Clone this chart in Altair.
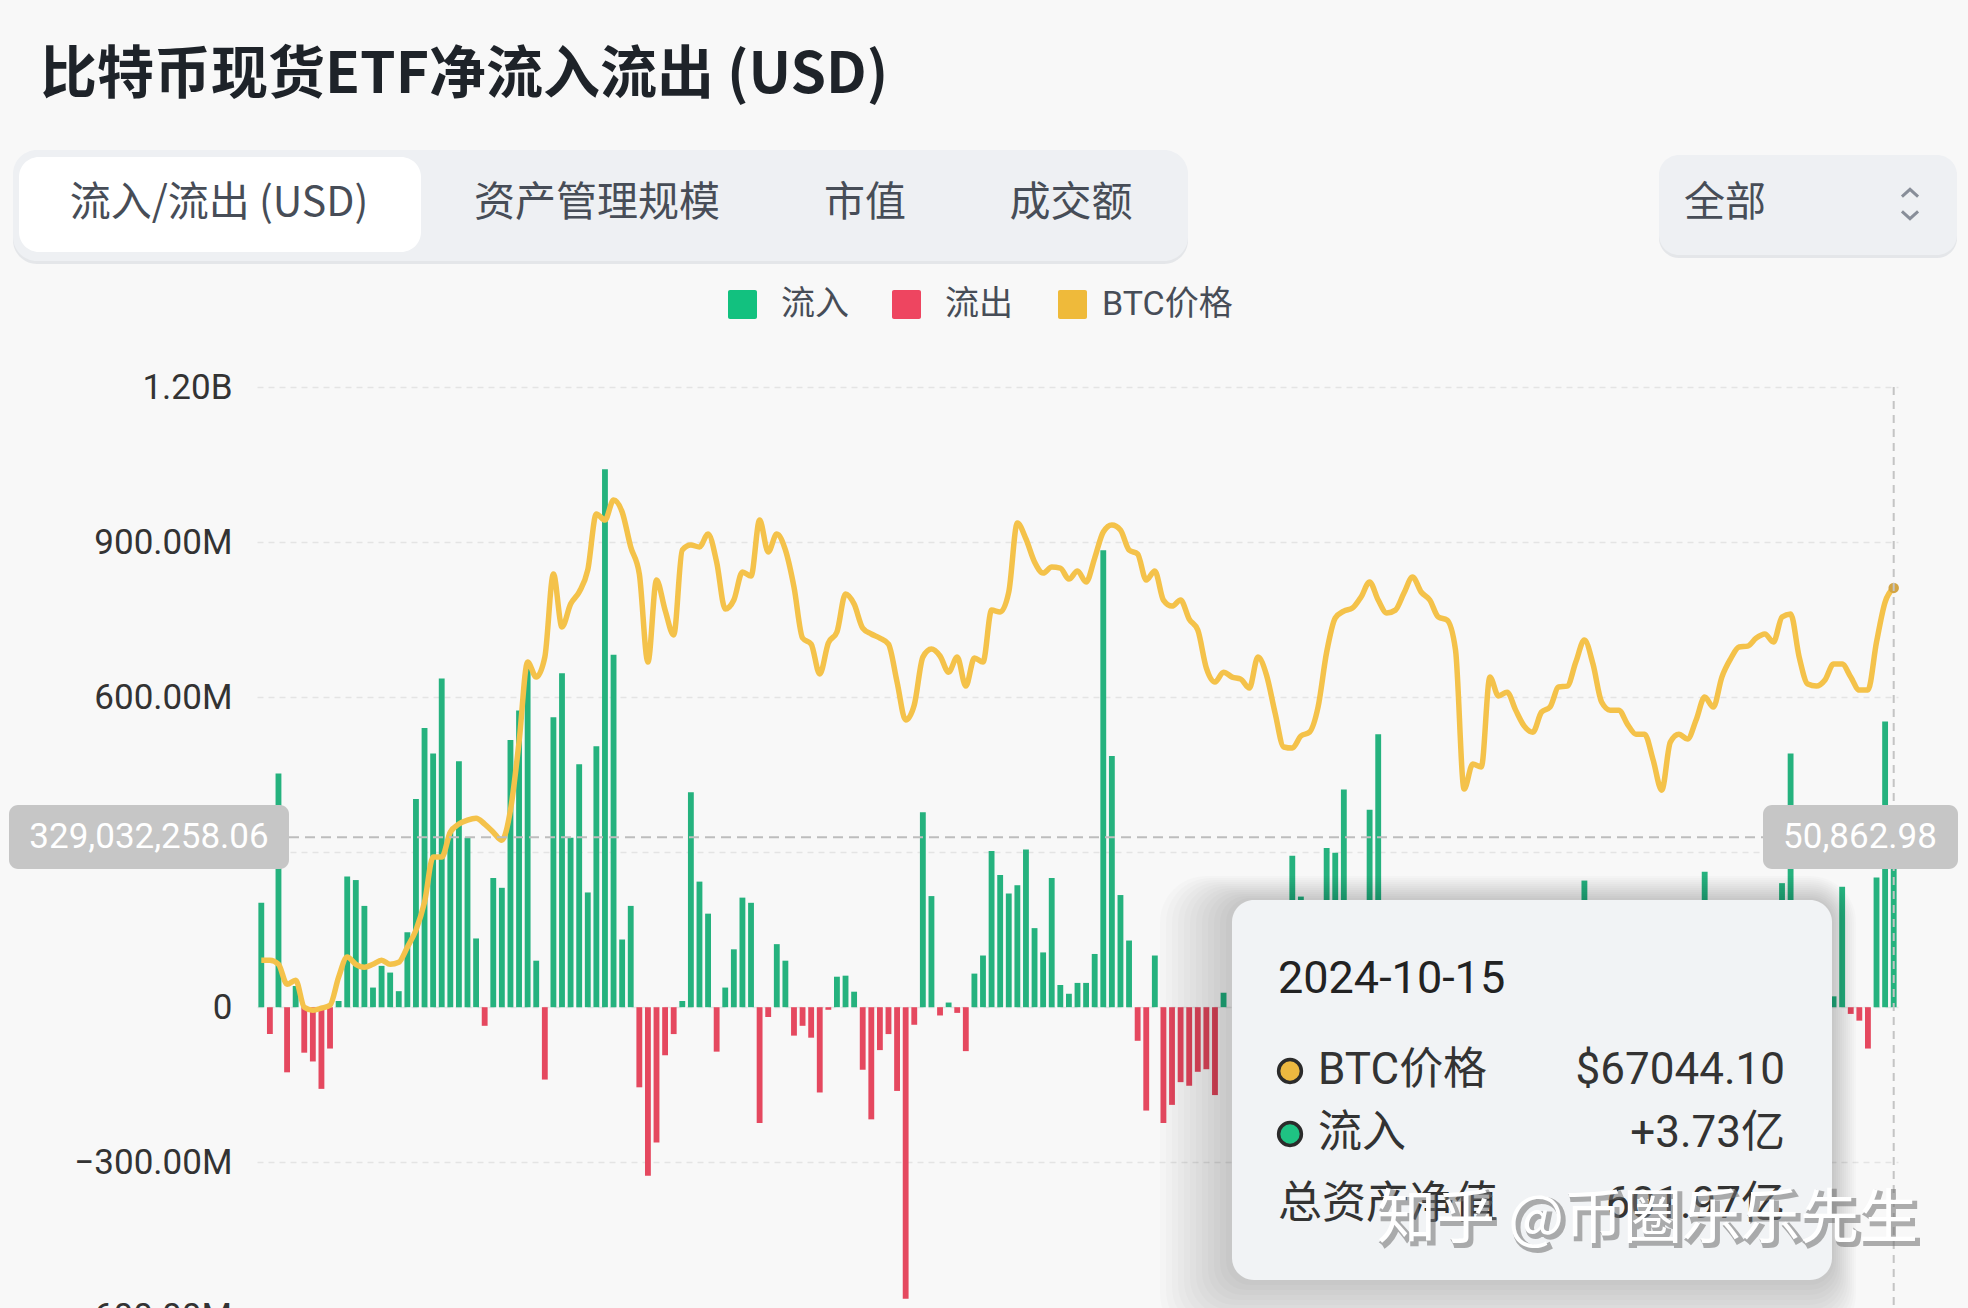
import altair as alt
import pandas as pd

# ---------------- data ----------------
# daily net flow, millions USD (None = bar hidden behind the tooltip panel)
FLOW_M = [
    202, -52, 452, -126, 41, -88, -105, -158, -80, 12,
    253, 246, 196, 38, 80, 67, 31, 145, 403, 540,
    491, 636, 338, 476, 328, 133, -36, 250, 231, 517,
    574, 655, 90, -140, 561, 646, 328, 470, 222, 505,
    1041, 682, 131, 196, -155, -326, -262, -93, -52, 12,
    416, 243, 181, -86, 38, 112, 212, 202, -224, -19,
    122, 90, -55, -36, -59, -165, -5, 59, 61, 30,
    -121, -217, -83, -52, -162, -564, -34, 377, 215, -16,
    9, -11, -85, 65, 100, 302, 256, 220, 236, 305,
    153, 106, 250, 43, 26, 47, 47, 103, 884, 486,
    217, 129, -65, -200, 100, -224, -189, -145, -152, -125,
    -120, -170, 28, None, None, None, None, None, None, None,
    293, 214, None, None, 308, 299, 421, None, None, 382,
    528, None, None, None, None, None, None, None, None, None,
    None, None, None, None, None, None, None, None, None, None,
    None, None, None, None, 245, None, None, None, None, None,
    None, None, None, None, None, None, None, None, 262, None,
    None, None, None, None, None, None, None, 240, 491, None,
    None, None, None, 21, 233, -13, -26, -80, 251, 553,
    373,
]

# BTC price, USD
PRICE = [
    43030, 43030, 42770, 41480, 41740, 40000, 39810, 39940, 40130, 41940,
    43230, 42770, 42580, 42770, 43030, 42770, 42900, 43870, 44970, 46770,
    49680, 49680, 51290, 51810, 52070, 52190, 51810, 51290, 50770, 52710,
    57100, 62260, 61290, 62580, 67940, 64520, 66000, 66780, 68200, 71810,
    71420, 72710, 71940, 69680, 67940, 62260, 67550, 65610, 64000, 69490,
    69810, 69680, 70520, 68710, 65680, 66260, 68070, 67810, 71420, 69360,
    70520, 69490, 67100, 63810, 63420, 61490, 63490, 64200, 66650, 66000,
    64450, 64070, 63810, 63420, 60970, 58520, 59490, 62580, 63100, 62650,
    61610, 62580, 60710, 62520, 62260, 65610, 65490, 66780, 71230, 70200,
    68710, 68000, 68390, 68320, 67610, 68130, 67420, 68970, 70650, 71100,
    70780, 69490, 69230, 67550, 68130, 66260, 65870, 66260, 65030, 64320,
    61870, 60970, 61610, 61290, 61160, 60580, 62580, 61420, 58970, 56780,
    56710, 57490, 57740, 59360, 62900, 65100, 65550, 65740, 66450, 67420,
    66260, 65420, 65610, 66710, 67740, 66780, 66260, 65160, 64970, 63030,
    54070, 55680, 55490, 61290, 60070, 60320, 59160, 58130, 57740, 59030,
    59360, 60650, 60710, 62260, 63680, 62130, 59680, 59160, 59160, 58260,
    57610, 57610, 55940, 54000, 57100, 57610, 57290, 58520, 60000, 59360,
    61290, 62450, 63230, 63290, 63810, 64070, 63550, 65160, 65360, 62580,
    60840, 60710, 61100, 62130, 62130, 61290, 60450, 60450, 63550, 66130,
    67044.10,
]

Y_TICKS = [-600e6, -300e6, 0, 300e6, 600e6, 900e6, 1200e6]
HIDDEN_TICK = 300e6            # label covered by the crosshair box in the reference
BOTTOM_TICK = -600e6
BOTTOM_TICK_LABEL = "-600.00M"

TITLE = "比特币现货ETF净流入流出 (USD)"
TABS = ["流入/流出 (USD)", "资产管理规模", "市值", "成交额"]
RANGE_LABEL = "全部"
LEGEND = ["流入", "流出", "BTC价格"]
TIP_DATE = "2024-10-15"
TIP_ROWS = ["BTC价格", "流入", "总资产净值"]
TIP_VALUES = ["$67044.10", "+3.73亿", "601.97亿"]
CROSS_FLOW = 329032258.06
CROSS_FLOW_LABEL = "329,032,258.06"
CROSS_PRICE_LABEL = "50,862.98"
WATERMARK = "知乎 @币圈乐乐先生"

# ---------------- styling / layout ----------------
BG = "#f8f8f8"
GREEN = "#25b27e"
RED = "#e5485f"
YELLOW = "#f4c24a"
LEG_GREEN = "#12c17f"
LEG_RED = "#ee4560"
LEG_YELLOW = "#efba3a"
TXT = "#474d57"
DARK = "#1e2329"
CJK = "Noto Sans CJK SC"
MIX = "Roboto, Noto Sans CJK SC"

L, T = 257, 387
W, H = 1641, 921
FLOW_DOMAIN = [-582e6, 1200e6]
PRICE_DOMAIN = [20600, 80000]

N = len(FLOW_M)
idx = list(range(1, N + 1))
bars_df = pd.DataFrame({"i": idx, "flow": [None if v is None else v * 1e6 for v in FLOW_M]}).dropna()
price_df = pd.DataFrame({"i": idx, "price": PRICE})
last_df = price_df.tail(1)
cross_df = pd.DataFrame({"v": [CROSS_FLOW]})
vline_df = pd.DataFrame({"i": [N]})
bottom_df = pd.DataFrame({"v": [BOTTOM_TICK], "t": [BOTTOM_TICK_LABEL]})
ONE = pd.DataFrame({"k": [0]})

xscale = alt.Scale(domain=idx, paddingInner=0.32, paddingOuter=0.16)
yscale = alt.Scale(domain=FLOW_DOMAIN, nice=False, zero=False)
pscale = alt.Scale(domain=PRICE_DOMAIN, nice=False, zero=False)

label_expr = (f"datum.value == {HIDDEN_TICK} ? '' : (datum.value == 0 ? '0' : (abs(datum.value) >= 1e9 ? "
              "format(datum.value / 1e9, '.2f') + 'B' : format(datum.value / 1e6, '.2f') + 'M'))")
yaxis = alt.Axis(values=Y_TICKS, labelExpr=label_expr, grid=True, gridDash=[6, 5],
                 gridColor="#e4e4e4", gridWidth=1.5, domain=False, ticks=False,
                 labelPadding=25, labelFontSize=35, labelColor="#333333", labelFont="Roboto",
                 labelOverlap=False, title=None)

bars = alt.Chart(bars_df).mark_bar().encode(
    x=alt.X("i:O", scale=xscale, axis=None),
    y=alt.Y("flow:Q", scale=yscale, axis=yaxis),
    color=alt.condition("datum.flow >= 0", alt.value(GREEN), alt.value(RED)),
)

bottom_label = alt.Chart(bottom_df).mark_text(align="right", baseline="middle", fontSize=35,
                                              font="Roboto", color="#333333").encode(
    y=alt.Y("v:Q", scale=yscale, axis=None), x=alt.value(-25), text="t:N")

line = alt.Chart(price_df).mark_line(color=YELLOW, strokeWidth=5.5, interpolate="monotone").encode(
    x=alt.X("i:O", scale=xscale, axis=None),
    y=alt.Y("price:Q", scale=pscale, axis=None),
)
last_dot = alt.Chart(last_df).mark_circle(color="#d3a544", size=110, opacity=1).encode(
    x=alt.X("i:O", scale=xscale, axis=None),
    y=alt.Y("price:Q", scale=pscale, axis=None),
)

hrule = alt.Chart(cross_df).mark_rule(color="#bdbdbd", strokeWidth=2, strokeDash=[10, 6]).encode(
    y=alt.Y("v:Q", scale=yscale, axis=None),
    x=alt.value(0), x2=alt.value(W),
)
vrule = alt.Chart(vline_df).mark_rule(color="#c4c4c4", strokeWidth=2, strokeDash=[8, 6]).encode(
    x=alt.X("i:O", scale=xscale, axis=None),
    y=alt.value(0), y2=alt.value(H),
)


def rect(x, x2, y, y2, fill, r=0, opacity=1.0):
    return alt.Chart(ONE).mark_rect(color=fill, cornerRadius=r, opacity=opacity).encode(
        x=alt.value(x), x2=alt.value(x2), y=alt.value(y), y2=alt.value(y2))


def text(txt, x, y, size, color, font=MIX, weight="normal", align="left", **kw):
    return alt.Chart(ONE).mark_text(align=align, baseline="middle", fontSize=size, font=font,
                                    fontWeight=weight, color=color, **kw).encode(
        x=alt.value(x), y=alt.value(y), text=alt.value(txt))


def dot(x, y, fill):
    return alt.Chart(ONE).mark_point(filled=True, fill=fill, stroke="#2b2b2b", strokeWidth=3.5,
                                     opacity=1, shape="circle").encode(
        x=alt.value(x), y=alt.value(y), size=alt.value(520))


layers = []
# header
layers.append(text(TITLE, -217, -311, 57, DARK, font=CJK, weight="bold"))
layers.append(rect(-244, 931, -234, -123, "#e4e6e9", r=24))
layers.append(rect(-244, 931, -237, -126, "#eef0f3", r=24))
layers.append(rect(-238, 164, -230, -135, "#ffffff", r=20))
for lab, cx in zip(TABS, [-38, 340, 608, 814]):
    layers.append(text(lab, cx, -183, 41, TXT, font=CJK, align="center"))
layers.append(rect(1402, 1700, -229, -129, "#e4e6e9", r=20))
layers.append(rect(1402, 1700, -232, -132, "#eef0f3", r=20))
layers.append(text(RANGE_LABEL, 1468, -183, 41, TXT, font=CJK, align="center"))
layers.append(alt.Chart(ONE).mark_point(shape="M-1,0.45L0,-0.45L1,0.45", filled=False, size=260,
                                        strokeWidth=3, color="#5e6673").encode(
    x=alt.value(1653), y=alt.value(-194)))
layers.append(alt.Chart(ONE).mark_point(shape="M-1,-0.45L0,0.45L1,-0.45", filled=False, size=260,
                                        strokeWidth=3, color="#5e6673").encode(
    x=alt.value(1653), y=alt.value(-172)))
# legend
for (x0, col), lab, tx in zip([(471, LEG_GREEN), (635, LEG_RED), (801, LEG_YELLOW)], LEGEND, [524, 688, 845]):
    layers.append(rect(x0, x0 + 29, -97, -68, col, r=2))
    layers.append(text(lab, tx, -82, 34, TXT))

# chart body
layers += [bars, bottom_label, line, last_dot, hrule, vrule]

# crosshair labels
layers.append(rect(-248, 32, 418, 482, "#c6c6c6", r=9))
layers.append(text(CROSS_FLOW_LABEL, -108, 450, 35, "#ffffff", font="Roboto", align="center"))
layers.append(rect(1506, 1701, 418, 482, "#c6c6c6", r=9))
layers.append(text(CROSS_PRICE_LABEL, 1603, 450, 35, "#ffffff", font="Roboto", align="center"))

# tooltip panel with soft shadow
for k in range(1, 13):
    layers.append(rect(975 - 6 * k, 1575 + 2 * k, 513 - 2 * k, 893 + 5 * k, "#000000",
                       r=22 + 2 * k, opacity=0.016))
layers.append(rect(975, 1575, 513, 893, "#f1f3f5", r=22))
layers.append(text(TIP_DATE, 1021, 592, 45, "#222222"))
layers.append(dot(1033, 684, "#edb840"))
layers.append(dot(1033, 747, "#1fc383"))
layers.append(text(TIP_ROWS[0], 1061, 684, 44, "#333333"))
layers.append(text(TIP_ROWS[1], 1061, 747, 44, "#333333"))
layers.append(text(TIP_ROWS[2], 1021, 818, 44, "#333333"))
for val, yy in zip(TIP_VALUES, [684, 747, 818]):
    layers.append(text(val, 1528, yy, 44, "#333333", align="right"))

# watermark
layers.append(text(WATERMARK, 1123, 836, 59, "#6f6f6f", font=CJK, opacity=0.55,
                   stroke="#6f6f6f", strokeWidth=4))
layers.append(text(WATERMARK, 1120, 833, 59, "#ffffff", font=CJK))

chart = alt.layer(*layers).resolve_scale(y="independent").properties(
    width=W, height=H, background=BG,
    padding={"left": L, "top": T, "right": 1968 - L - W, "bottom": 1308 - T - H},
    autosize=alt.AutoSizeParams(type="none"),
).configure_view(stroke=None)

chart.save("out.html", embed_options={"renderer": "svg", "actions": False})
